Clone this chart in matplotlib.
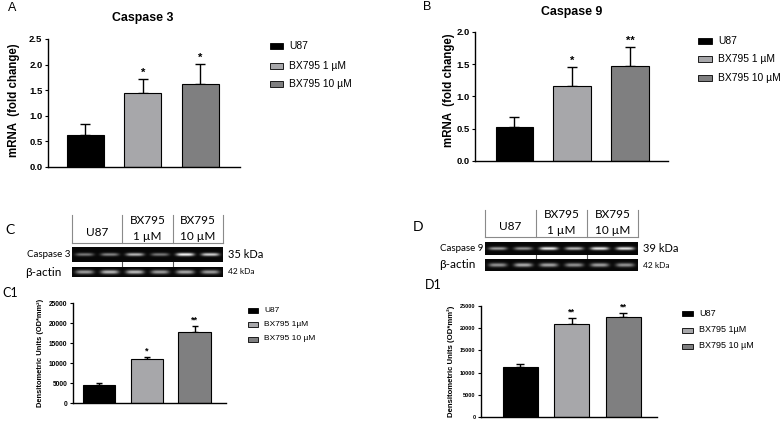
import numpy as np
import matplotlib
matplotlib.use('Agg')
import matplotlib.pyplot as plt
from matplotlib.patches import Rectangle

# =========================
# DATA
# =========================
groups = ['U87', 'BX795 1 µM', 'BX795 10 µM']
groups_c = ['U87', 'BX795 1µM', 'BX795 10 µM']
bar_colors = ['#000000', '#a7a7aa', '#7f7f80']

casp3_mrna = [0.62, 1.45, 1.62]
casp3_mrna_err = [0.22, 0.26, 0.39]
casp3_mrna_sig = ['', '*', '*']

casp9_mrna = [0.53, 1.16, 1.48]
casp9_mrna_err = [0.15, 0.29, 0.28]
casp9_mrna_sig = ['', '*', '**']

casp3_dens = [4600, 10900, 17800]
casp3_dens_err = [300, 700, 1400]
casp3_dens_sig = ['', '*', '**']

casp9_dens = [11300, 21000, 22500]
casp9_dens_err = [600, 1400, 1000]
casp9_dens_sig = ['', '**', '**']

# band brightness per lane (2 lanes per group)
blot_casp3 = [0.45, 0.5, 0.7, 0.45, 0.95, 0.8]
blot_actin_c = [0.6, 0.7, 0.72, 0.6, 0.65, 0.6]
blot_casp9 = [0.6, 0.55, 0.9, 0.7, 0.88, 0.88]
blot_actin_d = [0.55, 0.65, 0.62, 0.55, 0.6, 0.55]

W, H = 783, 421
CHART = 'Liberation Sans'
BLOT = ['Lato', 'Open Sans', 'DejaVu Sans']
DENS_LABEL = 'Densitometric Units (OD*mm²)'

fig = plt.figure(figsize=(W / 100, H / 100), dpi=100)

# overlay in pixel coordinates for blots, labels and legends
ov = fig.add_axes([0, 0, 1, 1])
ov.set_xlim(0, W)
ov.set_ylim(H, 0)
ov.axis('off')


def px_axes(l, t, r, b):
    return fig.add_axes([l / W, 1 - b / H, (r - l) / W, (b - t) / H])


def bar_panel(ax, vals, errs, sig, ymax, ystep, xlim, width, fmt, tsize, cap, ssize):
    x = np.arange(len(vals))
    ax.bar(x, vals, width, color=bar_colors, edgecolor='black', linewidth=0.8, zorder=2)
    ax.errorbar(x, vals, yerr=[np.zeros(len(vals)), errs], fmt='none', ecolor='black',
                elinewidth=1, capsize=cap, capthick=1, zorder=1)
    for xi, v, e, s in zip(x, vals, errs, sig):
        if s:
            ax.annotate(s, (xi, v + e), xytext=(0, 1), textcoords='offset points',
                        ha='center', va='bottom', fontsize=ssize, family=CHART, fontweight='bold')
    ax.set_xlim(*xlim)
    ax.set_ylim(0, ymax)
    ax.set_yticks(np.arange(0, ymax + ystep / 2, ystep))
    ax.yaxis.set_major_formatter(matplotlib.ticker.FormatStrFormatter(fmt))
    ax.set_xticks([])
    for sp in ['top', 'right']:
        ax.spines[sp].set_visible(False)
    for sp in ['left', 'bottom']:
        ax.spines[sp].set_linewidth(1)
    ax.tick_params(axis='y', length=2.5, width=0.8, pad=1.5, labelsize=tsize)
    for t in ax.get_yticklabels():
        t.set_family(CHART)
        t.set_fontweight('bold')
    ax.patch.set_alpha(0)


def legend(x0, ys, w, h, labels, size):
    for y, lab, c in zip(ys, labels, bar_colors):
        ov.add_patch(Rectangle((x0, y - h / 2), w, h, facecolor=c, edgecolor='black', lw=0.6))
        ov.text(x0 + w + 6, y, lab, fontsize=size, family=CHART, va='center', ha='left')


def blot_strip(l, t, r, b, levels, band_h):
    nx, ny = int((r - l) * 4), int((b - t) * 4)
    xs = np.linspace(0, r - l, nx)
    ys = np.linspace(0, b - t, ny)
    lane = (r - l) / len(levels)
    img = np.full((ny, nx), 0.03)
    yc = (b - t) / 2
    vy = np.exp(-((ys - yc) / band_h) ** 2)
    for i, lev in enumerate(levels):
        xc = lane * (i + 0.5)
        vx = np.exp(-np.abs((xs - xc) / (lane * 0.36)) ** 4)
        img += lev * np.outer(vy, vx)
    ov.imshow(np.clip(img, 0, 1), cmap='gray', vmin=0, vmax=1, extent=(l, r, b, t),
              aspect='auto', interpolation='bilinear', zorder=2)


def blot_panel(l, r, top, hline, s1, s2, lev1, lev2, bh1, bh2, name, kda):
    divs = np.linspace(l, r, 4)
    for xd in divs:
        ov.plot([xd, xd], [top, hline], color='#8a8a8a', lw=0.8)
    ov.plot([l, r], [hline, hline], color='#8a8a8a', lw=0.8)
    for xd in divs[1:3]:
        ov.plot([xd, xd], [s1[1], s2[0]], color='#555555', lw=0.8)
    blot_strip(l, s1[0], r, s1[1], lev1, bh1)
    blot_strip(l, s2[0], r, s2[1], lev2, bh2)
    cx = (divs[:-1] + divs[1:]) / 2
    ov.text(cx[0], (top + hline) / 2 + 3, 'U87', fontsize=8.5, family=BLOT, ha='center', va='center')
    ov.text(cx[1], top + 5, 'BX795', fontsize=8.5, family=BLOT, ha='center', va='center')
    ov.text(cx[1], hline - 7, '1 µM', fontsize=8.5, family=BLOT, ha='center', va='center')
    ov.text(cx[2], top + 5, 'BX795', fontsize=8.5, family=BLOT, ha='center', va='center')
    ov.text(cx[2], hline - 7, '10 µM', fontsize=8.5, family=BLOT, ha='center', va='center')
    ov.text(l - 2, sum(s1) / 2, name, fontsize=7, family=BLOT, ha='right', va='center')
    ov.text(l - 10, sum(s2) / 2, 'β-actin', fontsize=8.5, family=BLOT, ha='right', va='center')
    ov.text(r + 5, sum(s1) / 2, kda, fontsize=8, family=BLOT, ha='left', va='center')
    ov.text(r + 5, sum(s2) / 2, '42 kDa', fontsize=6, family=BLOT, ha='left', va='center')


# =========================
# A - Caspase 3 mRNA
# =========================
axA = px_axes(48, 39, 240, 167)
bar_panel(axA, casp3_mrna, casp3_mrna_err, casp3_mrna_sig, 2.5, 0.5, (-0.65, 2.69), 0.64, '%.1f', 6.8, 3.3, 8)
ov.text(143, 18, 'Caspase 3', fontsize=8.9, family=CHART, fontweight='bold', ha='center', va='center')
ov.text(14, 100, 'mRNA  (fold change)', fontsize=8.3, family=CHART, fontweight='bold',
        rotation=90, ha='center', va='center')
ov.text(8, 8, 'A', fontsize=9, family=CHART, ha='left', va='center')
legend(270, [46, 66, 84], 13, 6, groups, 7.4)

# =========================
# B - Caspase 9 mRNA
# =========================
axB = px_axes(475, 32, 668, 161)
bar_panel(axB, casp9_mrna, casp9_mrna_err, casp9_mrna_sig, 2.0, 0.5, (-0.68, 2.655), 0.65, '%.1f', 6.8, 3.3, 8)
ov.text(572, 12, 'Caspase 9', fontsize=8.9, family=CHART, fontweight='bold', ha='center', va='center')
ov.text(449, 90, 'mRNA  (fold change)', fontsize=8.3, family=CHART, fontweight='bold',
        rotation=90, ha='center', va='center')
ov.text(423, 7, 'B', fontsize=9, family=CHART, ha='left', va='center')
legend(698, [41, 59, 78], 14, 6, groups, 7.4)

# =========================
# C / D - western blots
# =========================
blot_panel(72, 223, 215, 243, (247, 262), (267, 277), blot_casp3, blot_actin_c, 1.6, 2.0,
           'Caspase 3', '35 kDa')
ov.text(5, 230, 'C', fontsize=10, family=BLOT, ha='left', va='center')

blot_panel(485, 638, 210, 237, (242, 255), (259, 271), blot_casp9, blot_actin_d, 1.6, 2.0,
           'Caspase 9', '39 kDa')
ov.text(413, 227, 'D', fontsize=10, family=BLOT, ha='left', va='center')

# =========================
# C1 - densitometry caspase 3
# =========================
axC1 = px_axes(73, 303, 226, 403)
bar_panel(axC1, casp3_dens, casp3_dens_err, casp3_dens_sig, 25000, 5000, (-0.55, 2.66), 0.68, '%d', 4.8, 2.5, 6.5)
ov.text(40, 353, DENS_LABEL, fontsize=5.4, family=CHART, fontweight='bold',
        rotation=90, ha='center', va='center')
ov.text(2, 293, 'C1', fontsize=9, family=BLOT, ha='left', va='center')
legend(248, [310, 324, 339], 10, 5, groups_c, 6.0)

# =========================
# D1 - densitometry caspase 9
# =========================
axD1 = px_axes(481, 306, 657, 417)
bar_panel(axD1, casp9_dens, casp9_dens_err, casp9_dens_sig, 25000, 5000, (-0.76, 2.66), 0.68, '%d', 4.0, 2.8, 6.5)
ov.text(451, 361, DENS_LABEL, fontsize=5.6, family=CHART, fontweight='bold',
        rotation=90, ha='center', va='center')
ov.text(425, 285, 'D1', fontsize=9, family=BLOT, ha='left', va='center')
legend(682, [313, 330, 346], 11, 5, groups_c, 6.5)

fig.savefig('out.png', dpi=100)
